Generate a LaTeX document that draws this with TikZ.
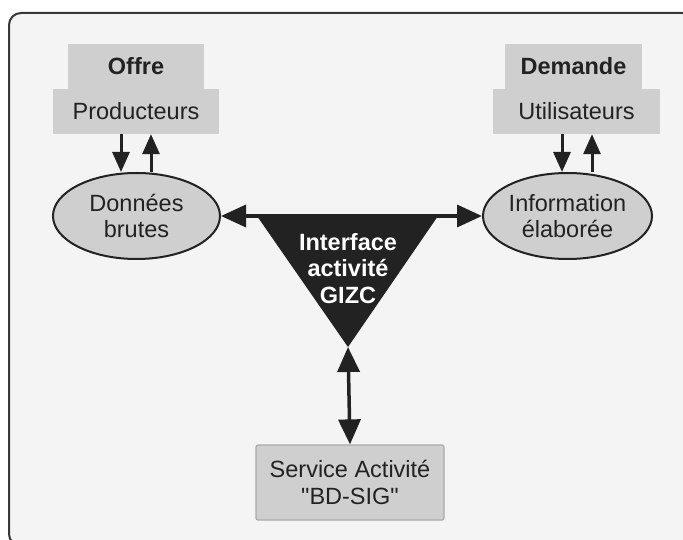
\documentclass[tikz,border=0pt]{standalone}
\usepackage{fontspec}
\setmainfont{Liberation Sans}[Ligatures=TeXOff]
\usetikzlibrary{arrows.meta,shapes.geometric,calc}

\definecolor{panel}{HTML}{F4F4F4}
\definecolor{boxgray}{HTML}{CFCFCF}
\definecolor{ink}{HTML}{222222}
\definecolor{edge}{HTML}{A9A9A9}

\tikzset{
  txt/.style={font=\fontsize{23.5pt}{26.5pt}\selectfont, text=ink, align=center, inner sep=0pt},
  tab/.style={txt, rectangle, fill=boxgray, minimum height=45pt},
  blob/.style={txt, ellipse, fill=boxgray, draw=ink, line width=2pt, minimum height=86pt},
  small arrow/.style={draw=ink, line width=3pt, -{Triangle[length=20pt,width=17pt]}},
  big arrow/.style={draw=ink, line width=3.5pt, {Triangle[length=25pt,width=22pt]}-{Triangle[length=25pt,width=22pt]}},
}

\begin{document}
\begin{tikzpicture}[x=1pt,y=-1pt]
  \useasboundingbox (0,0) rectangle (683,540);
  \clip (0,0) rectangle (683,540);
  \fill[white] (0,0) rectangle (683,540);

  % frame panel
  \draw[fill=panel, draw=ink!90, line width=2pt, rounded corners=12pt] (9,13) rectangle (694,546);

  % supply side
  \node[tab, minimum width=136pt] (offre) at (136,66.5) {\textbf{Offre}};
  \node[tab, minimum width=166pt] (prod) at (136,111.5) {Producteurs};
  % demand side
  \node[tab, minimum width=137pt] (demande) at (573.5,66.5) {\textbf{Demande}};
  \node[tab, minimum width=167pt] (util) at (576.5,111.5) {Utilisateurs};

  % data ellipses
  \node[blob, minimum width=167pt] (donnees) at (136.5,216) {Données\\brutes};
  \node[blob, minimum width=169pt] (info) at (567.5,216) {Information\\élaborée};

  % central triangle
  \coordinate (triL) at (257,216);
  \coordinate (triR) at (438,216);
  \coordinate (triB) at (348,347);
  \fill[ink] (triL) -- (triR) -- (triB) -- cycle;
  \node[txt, text=white, font=\fontsize{23.5pt}{26.5pt}\selectfont\bfseries] (gizc) at (348,268.5) {Interface\\activité\\GIZC};

  % service box
  \node[txt, rectangle, fill=boxgray, draw=edge, line width=1.2pt, rounded corners=2pt,
        minimum width=188pt, minimum height=75pt] (service) at (350,482.5) {Service Activité\\"BD-SIG"};

  % exchanges with producers and users
  \draw[small arrow] ([xshift=-15pt]prod.south) -- ([xshift=-15pt]prod.south |- donnees.north);
  \draw[small arrow] ([xshift=15pt]prod.south |- donnees.north) -- ([xshift=15pt]prod.south);
  \draw[small arrow] ([xshift=-14.5pt]util.south) -- ([xshift=-14.5pt]util.south |- info.north);
  \draw[small arrow] ([xshift=15.5pt]util.south |- info.north) -- ([xshift=15.5pt]util.south);

  % links through the interface
  \draw[big arrow] (donnees.east) -- (info.west);
  \draw[big arrow] (triB) -- (service.north);
\end{tikzpicture}
\end{document}
